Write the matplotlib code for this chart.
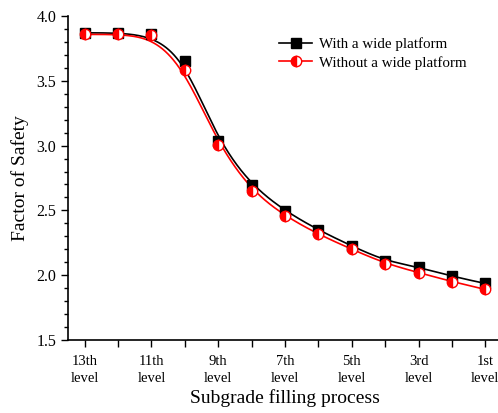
import numpy as np
import matplotlib
matplotlib.use('Agg')
import matplotlib.pyplot as plt

plt.rcParams['font.family'] = 'Liberation Serif'

levels = ['13th\nlevel', '', '11th\nlevel', '', '9th\nlevel', '', '7th\nlevel', '',
          '5th\nlevel', '', '3rd\nlevel', '', '1st\nlevel']
with_platform = [3.87, 3.87, 3.86, 3.656, 3.033, 2.692, 2.495, 2.348, 2.225, 2.11, 2.064, 1.99, 1.936]
without_platform = [3.858, 3.858, 3.855, 3.585, 3.008, 2.65, 2.456, 2.315, 2.20, 2.09, 2.02, 1.95, 1.89]


def bspline(px, py, n=400, k=3):
    # clamped cubic B-spline with the data points as control points (Origin style)
    m = len(px)
    knots = np.concatenate([np.zeros(k), np.linspace(0, 1, m - k + 1), np.ones(k)])
    t = np.linspace(0, 1 - 1e-9, n)
    B = np.zeros((len(knots) - 1, n))
    for i in range(len(knots) - 1):
        B[i] = (knots[i] <= t) & (t < knots[i + 1])
    for d in range(1, k + 1):
        Bn = np.zeros((len(knots) - 1 - d, n))
        for i in range(len(knots) - 1 - d):
            a = 0 if knots[i + d] == knots[i] else (t - knots[i]) / (knots[i + d] - knots[i])
            b = 0 if knots[i + d + 1] == knots[i + 1] else (knots[i + d + 1] - t) / (knots[i + d + 1] - knots[i + 1])
            Bn[i] = a * B[i] + b * B[i + 1]
        B = Bn
    return B.T @ np.asarray(px, float), B.T @ np.asarray(py, float)


x = np.arange(len(levels))

fig = plt.figure(figsize=(4.98, 4.13), dpi=100)
ax = fig.add_axes([0.1365, 0.1768, 0.8717, 0.7845])

cx, cy = bspline(x, with_platform)
ax.plot(cx, cy, color='black', lw=1.2)
cx, cy = bspline(x, without_platform)
ax.plot(cx, cy, color='red', lw=1.2)

ax.plot(x, with_platform, ls='none', marker='s', ms=7, color='black')
ax.plot(x, without_platform, ls='none', marker='o', ms=7.5, color='red',
        fillstyle='left', markerfacecoloralt='white', markeredgewidth=1.0)

# legend handles
h1, = ax.plot([], [], color='black', lw=1.2, marker='s', ms=7)
h2, = ax.plot([], [], color='red', lw=1.2, marker='o', ms=7.5,
              fillstyle='left', markerfacecoloralt='white')
ax.legend([h1, h2], ['With a wide platform', 'Without a wide platform'],
          loc='upper left', bbox_to_anchor=(0.456, 0.975), frameon=False,
          fontsize=10.8, handlelength=2.2, handletextpad=0.45, labelspacing=0.3)

ax.set_xlim(-0.5, 12.5)
ax.set_ylim(1.5, 4.0)
ax.set_xticks(x)
ax.set_xticklabels(levels, fontsize=10.5, linespacing=1.4)
ax.set_yticks([1.5, 2.0, 2.5, 3.0, 3.5, 4.0])
ax.set_yticks(np.arange(1.5, 4.0, 0.1), minor=True)
ax.tick_params(axis='y', which='major', length=5, width=1, labelsize=11.5)
ax.tick_params(axis='y', which='minor', length=3, width=1)
ax.tick_params(axis='x', length=5, width=1, pad=6)
ax.spines['top'].set_visible(False)
ax.spines['right'].set_visible(False)
ax.spines['left'].set_linewidth(1.2)
ax.spines['bottom'].set_linewidth(1.2)

ax.set_xlabel('Subgrade filling process', fontsize=14, labelpad=3)
ax.set_ylabel('Factor of Safety', fontsize=14, labelpad=5)

fig.savefig('out.png', dpi=100)
